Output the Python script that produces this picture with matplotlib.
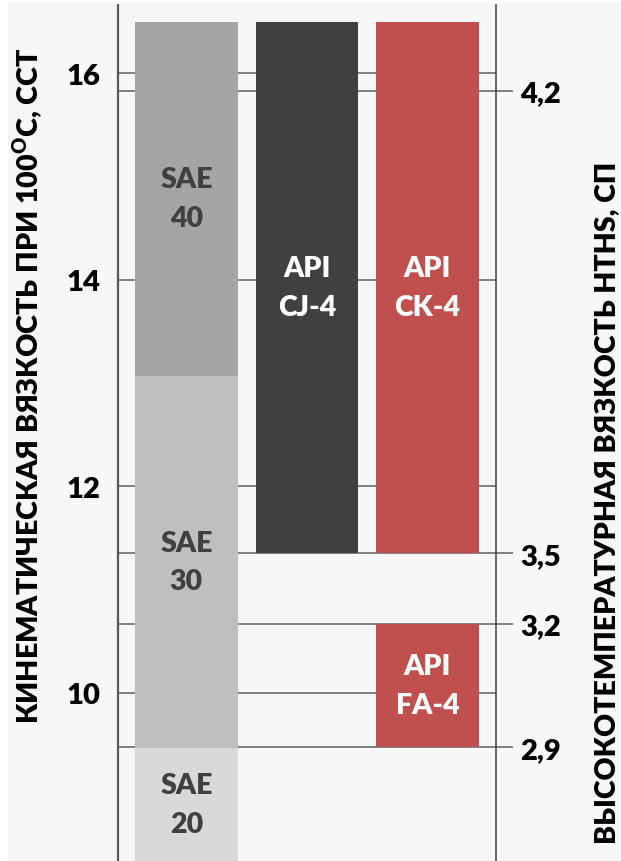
import matplotlib
matplotlib.use("Agg")
import matplotlib.pyplot as plt
from matplotlib.patches import Rectangle

plt.rcParams['font.family'] = ['Lato', 'DejaVu Sans']
plt.rcParams['font.weight'] = 'heavy'
plt.rcParams['mathtext.fontset'] = 'custom'
plt.rcParams['mathtext.rm'] = 'Lato'
plt.rcParams['mathtext.bf'] = 'Lato:heavy'

# ---- data ----
sae_labels = ['SAE\n20', 'SAE\n30', 'SAE\n40']
sae_bottoms = [8.3, 9.46, 13.07]
sae_tops = [9.46, 13.07, 16.5]
sae_colors = ['#D9D9D9', '#BFBFBF', '#A5A5A5']

api_labels = ['API\nCJ-4', 'API\nCK-4', 'API\nFA-4']
api_x = [1, 2, 2]
api_bottoms = [11.35, 11.35, 9.47]
api_tops = [16.5, 16.5, 10.67]
api_colors = ['#404040', '#C0504D', '#C0504D']

kv_ticks = [10, 12, 14, 16]
kv_tick_labels = ['10', '12', '14', '16']
hths_positions = [9.47, 10.67, 11.35, 15.83]
hths_labels = ['2,9', '3,2', '3,5', '4,2']

left_title = r'КИНЕМАТИЧЕСКАЯ ВЯЗКОСТЬ ПРИ 100$^{\mathbf{O}}$С, ССТ'
right_title = 'ВЫСОКОТЕМПЕРАТУРНАЯ ВЯЗКОСТЬ HTHS, СП'

# ---- figure ----
W, H = 621, 862
fig = plt.figure(figsize=(W / 100, H / 100), dpi=100, facecolor='white')
fig.patches.append(Rectangle((8 / W, 0), 1, 1 - 4 / H, transform=fig.transFigure,
                             facecolor='#F7F7F7', edgecolor='none', zorder=-10))

ax = fig.add_axes([117.7 / W, 0, (496 - 117.7) / W, (H - 6) / H])
ax.set_facecolor('none')
ax.set_xlim(-0.57, 2.57)
ax.set_ylim(8.37, 16.66)

grid_color = '#5F5F5F'
bar_w = 0.85

# gridlines (behind bars)
for v in kv_ticks:
    ax.axhline(v, color=grid_color, lw=1.1, zorder=0)
for v in hths_positions:
    ax.axhline(v, color=grid_color, lw=1.1, zorder=0)

for lab, b, t, c in zip(sae_labels, sae_bottoms, sae_tops, sae_colors):
    ax.bar(0, t - b, bottom=b, width=bar_w, color=c, zorder=2, linewidth=0)
    ax.text(0, (max(b, ax.get_ylim()[0]) + t) / 2, lab, ha='center', va='center',
            color='#404040', fontsize=20.5, fontweight='heavy', linespacing=1.6, zorder=3)

for lab, x, b, t, c in zip(api_labels, api_x, api_bottoms, api_tops, api_colors):
    ax.bar(x, t - b, bottom=b, width=bar_w, color=c, zorder=2, linewidth=0)
    ax.text(x, (b + t) / 2, lab, ha='center', va='center',
            color='white', fontsize=20.5, fontweight='heavy', linespacing=1.6, zorder=3)

ax.set_xticks([])
ax.set_yticks(kv_ticks, kv_tick_labels)
ax.tick_params(axis='y', length=0, pad=12.7, labelsize=21, labelcolor='black')
for s in ['top', 'bottom', 'right']:
    ax.spines[s].set_visible(False)
ax.spines['left'].set_color('#595959')
ax.spines['left'].set_linewidth(1.6)

ax2 = ax.twinx()
ax2.set_ylim(ax.get_ylim())
ax2.set_yticks(hths_positions, hths_labels)
ax2.tick_params(axis='y', direction='out', length=12.2, width=1.1, color=grid_color,
                pad=5.4, labelsize=21, labelcolor='black')
for s in ['top', 'bottom', 'left']:
    ax2.spines[s].set_visible(False)
ax2.spines['right'].set_color('#404040')
ax2.spines['right'].set_linewidth(1.1)

fig.text(28 / W, 1 - 386 / H, left_title, rotation=90, ha='center', va='center',
         fontsize=20.6, fontweight='heavy', color='black')
fig.text(607 / W, 1 - 503 / H, right_title, rotation=90, ha='center', va='center',
         fontsize=20.5, fontweight='heavy', color='black')

fig.savefig('out.png', dpi=100, facecolor='white')
